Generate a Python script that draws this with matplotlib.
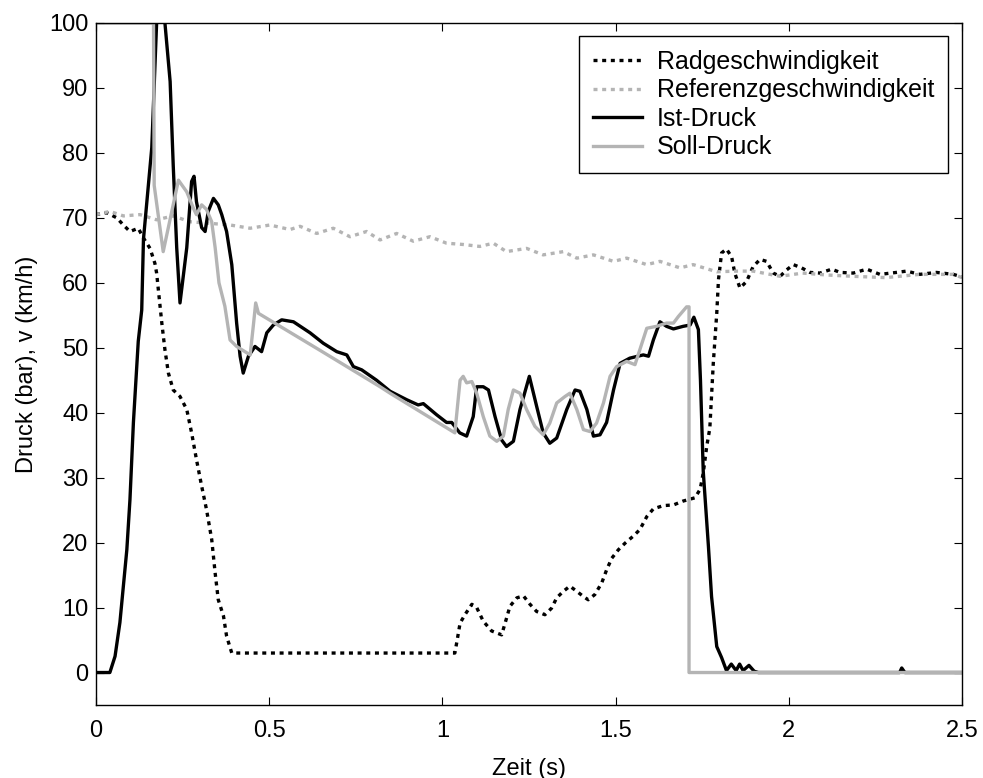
import matplotlib
matplotlib.use("Agg")
import matplotlib.pyplot as plt

plt.rcParams['font.family'] = ['Liberation Sans', 'DejaVu Sans']

# Wheel speed (km/h)
t_rad = [0, 0.031, 0.06, 0.079, 0.098, 0.122, 0.137, 0.156, 0.17, 0.175, 0.19, 0.199, 0.209,
         0.223, 0.2425, 0.262, 0.276, 0.29, 0.305, 0.319, 0.334, 0.344, 0.353, 0.368, 0.377,
         0.392, 1.036, 1.043, 1.051, 1.065, 1.085, 1.099, 1.118, 1.142, 1.171, 1.181, 1.195,
         1.215, 1.234, 1.253, 1.272, 1.296, 1.315, 1.33, 1.349, 1.368, 1.388, 1.407, 1.421,
         1.44, 1.46, 1.474, 1.489, 1.508, 1.527, 1.551, 1.57, 1.59, 1.609, 1.638, 1.667, 1.695,
         1.729, 1.744, 1.753, 1.763, 1.772, 1.782, 1.792, 1.797, 1.806, 1.82, 1.835, 1.844,
         1.859, 1.878, 1.897, 1.917, 1.936, 1.955, 1.975, 1.994, 2.013, 2.037, 2.061, 2.09,
         2.124, 2.148, 2.186, 2.225, 2.263, 2.311, 2.34, 2.378, 2.426, 2.475, 2.5]
v_rad = [70.5, 70.8, 70, 68.9, 67.9, 68.4, 66.9, 65.3, 63, 61.5, 53.8, 49.7, 46.1,
         43.5, 42.5, 40.5, 36.9, 32.8, 28.7, 25.1, 20.5, 15.3, 11.2, 8.7, 5.6,
         3.0, 3.0, 5.1, 7.6, 8.9, 10.5, 10, 7.9, 6.4, 5.8, 7.6, 10.2,
         11.5, 11.8, 10.5, 9.4, 8.9, 9.9, 11.5, 12.5, 13.3, 12.5, 11.7, 11.2,
         12, 13.8, 15.8, 17.6, 18.9, 19.9, 21, 22, 24, 25.2, 25.7, 25.8, 26.4,
         26.9, 28.2, 30.7, 34.8, 37.6, 47.6, 55.3, 60.5, 64.6, 65.2, 64, 61.5,
         59.2, 60.2, 62.5, 63.6, 63.3, 61.5, 61, 62, 62.8, 62.3, 61.6, 61.5,
         62.1, 61.6, 61.5, 62.1, 61.3, 61.6, 61.8, 61.3, 61.6, 61.3, 60.9]

# Reference speed (km/h)
t_ref = [0, 0.04, 0.079, 0.127, 0.175, 0.223, 0.271, 0.319, 0.387, 0.445, 0.502, 0.56, 0.589,
         0.637, 0.685, 0.733, 0.781, 0.82, 0.868, 0.916, 0.964, 1.012, 1.06, 1.108, 1.147,
         1.185, 1.243, 1.291, 1.349, 1.388, 1.436, 1.494, 1.532, 1.59, 1.628, 1.686, 1.724,
         1.792, 1.85, 1.897, 1.975, 2.04, 2.11, 2.186, 2.28, 2.378, 2.475, 2.5]
v_ref = [70.5, 71, 70.3, 70.5, 69.7, 70.3, 69.4, 69.2, 68.9, 68.4, 68.9, 68.2, 68.7,
         67.6, 68.4, 67.1, 67.9, 66.6, 67.6, 66.4, 67.1, 66.1, 65.9, 65.6, 66.1,
         64.8, 65.3, 64.3, 64.8, 63.8, 64.3, 63.3, 63.8, 62.8, 63.3, 62.3, 62.8,
         61.7, 61.8, 61.8, 61.0, 61.5, 61.2, 61.0, 60.8, 61.3, 61.3, 60.8]

# Measured brake pressure (bar)
t_ist = [0, 0.04, 0.055, 0.069, 0.089, 0.098, 0.108, 0.122, 0.132, 0.137, 0.161, 0.175, 0.185,
         0.199, 0.214, 0.223, 0.233, 0.2425, 0.262, 0.276, 0.283, 0.29, 0.305, 0.315, 0.324,
         0.339, 0.353, 0.363, 0.377, 0.392, 0.406, 0.416, 0.425, 0.44, 0.459, 0.478, 0.493,
         0.512, 0.536, 0.57, 0.618, 0.656, 0.695, 0.724, 0.743, 0.767, 0.81, 0.849, 0.897,
         0.93, 0.945, 0.983, 1.012, 1.027, 1.05, 1.07, 1.089, 1.099, 1.118, 1.133, 1.152,
         1.171, 1.185, 1.205, 1.224, 1.251, 1.272, 1.291, 1.31, 1.33, 1.359, 1.383, 1.397,
         1.417, 1.436, 1.455, 1.474, 1.494, 1.513, 1.541, 1.58, 1.595, 1.609, 1.628, 1.647,
         1.667, 1.695, 1.715, 1.726, 1.739, 1.745, 1.753, 1.768, 1.777, 1.792, 1.806, 1.82,
         1.834, 1.848, 1.858, 1.868, 1.885, 1.9, 1.912, 2.32, 2.326, 2.335, 2.5]
p_ist = [0, 0, 2.5, 7.7, 18.9, 26.6, 38.5, 51, 55.8, 66.7, 80.8, 100, 102,
         100, 91, 78, 65.4, 56.9, 65.4, 75.6, 76.4, 72.5, 68.5, 67.9, 71,
         73, 72, 70.5, 67.9, 62.8, 53.8, 48.7, 46.1, 48.7, 50.2, 49.4, 52.3,
         53.5, 54.3, 54.0, 52.3, 50.7, 49.4, 48.9, 47.1, 46.6, 45, 43.3, 42.0,
         41.2, 41.4, 39.7, 38.5, 38.5, 36.9, 36.4, 39.4, 44, 44, 43.5, 39.4,
         35.8, 34.8, 35.6, 40.5, 45.6, 41, 36.9, 35.3, 36.1, 40.5, 43.5, 43.3,
         40.5, 36.4, 36.6, 38.5, 43.5, 47.6, 48.4, 48.9, 48.7, 51.2, 54.0, 53.3,
         52.9, 53.3, 53.5, 54.7, 52.8, 45, 31, 19.4, 11.7, 4.0, 2.3, 0.3,
         1.3, 0.3, 1.3, 0.3, 1.1, 0.2, 0, 0, 0.7, 0, 0]

# Target brake pressure (bar)
t_soll = [0, 0.166, 0.168, 0.194, 0.238, 0.262, 0.281, 0.29, 0.305, 0.319, 0.334, 0.344, 0.355,
          0.372, 0.387, 0.406, 0.445, 0.454, 0.461, 0.469, 0.65, 0.82, 0.849, 1.036, 1.051,
          1.06, 1.07, 1.085, 1.099, 1.118, 1.137, 1.157, 1.176, 1.19, 1.205, 1.224, 1.243,
          1.267, 1.291, 1.31, 1.33, 1.354, 1.368, 1.388, 1.407, 1.426, 1.445, 1.465, 1.484,
          1.503, 1.532, 1.556, 1.57, 1.59, 1.618, 1.647, 1.667, 1.681, 1.705, 1.712, 1.712, 2.5]
p_soll = [100, 100, 75, 64.8, 75.8, 74, 71.5, 70.5, 72, 71.3, 69.4, 65.4, 60,
          56.4, 51.2, 50.2, 48.9, 53.3, 56.9, 55.3, 49.5, 44.0, 43, 36.9, 45,
          45.6, 44.6, 44.8, 43, 39.4, 36.4, 35.6, 36.4, 40.5, 43.5, 43, 40.5,
          37.9, 36.6, 38.4, 41.5, 42.5, 43, 40.5, 37.4, 37.1, 38.4, 41.5, 45.6,
          47.1, 47.9, 47.4, 49.7, 53, 53.3, 53.8, 53.8, 54.8, 56.3, 56.3, 0, 0]

labels = ["Radgeschwindigkeit", "Referenzgeschwindigkeit", "Ist-Druck", "Soll-Druck"]
grey = "#b4b4b4"
fs = 17

fig = plt.figure(figsize=(9.83, 7.78), dpi=100)
ax = fig.add_axes([96 / 983, 1 - 705 / 778, 866 / 983, 682 / 778])

lw = 2.4
ax.plot(t_rad, v_rad, color="black", lw=lw, dashes=(1.2, 1.4), dash_capstyle="butt",
        label=labels[0])
ax.plot(t_ref, v_ref, color=grey, lw=lw, dashes=(1.2, 1.4), dash_capstyle="butt",
        label=labels[1])
ax.plot(t_ist, p_ist, color="black", lw=lw, label=labels[2])
ax.plot(t_soll, p_soll, color=grey, lw=lw, label=labels[3])

ax.set_xlim(0, 2.5)
ax.set_ylim(-5, 100)
ax.set_xticks([0, 0.5, 1, 1.5, 2, 2.5])
ax.set_xticklabels(["0", "0.5", "1", "1.5", "2", "2.5"])
ax.set_yticks(range(0, 101, 10))
ax.tick_params(direction="in", top=True, right=True, labelsize=fs, length=6, width=0.8)
ax.tick_params(axis="x", pad=11)
ax.tick_params(axis="y", pad=5.5)
for s in ax.spines.values():
    s.set_linewidth(1.0)

ax.set_xlabel("Zeit (s)", fontsize=fs, labelpad=11)
ax.set_ylabel("Druck (bar), v (km/h)", fontsize=fs, labelpad=8)

leg = ax.legend(loc="upper right", bbox_to_anchor=(948 / 983, 1 - 36 / 778),
                bbox_transform=fig.transFigure, borderaxespad=0, fontsize=18,
                fancybox=False, framealpha=1, edgecolor="black", handlelength=1.95,
                labelspacing=0.18, borderpad=0.55, handletextpad=0.6)
leg.get_frame().set_linewidth(1.0)

fig.savefig("out.png", dpi=100)
